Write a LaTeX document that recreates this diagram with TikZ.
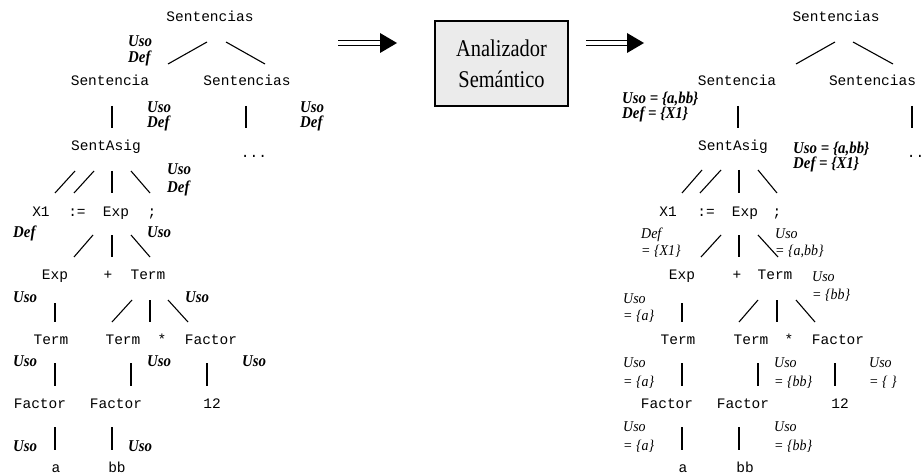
\documentclass[tikz,border=0pt]{standalone}
\usepackage{fontspec}
\usetikzlibrary{calc}

% Typefaces: typewriter for grammar symbols, serif for the box and attributes
\newfontfamily\codefont{Liberation Mono}
\newfontfamily\romfont[FakeStretch=0.85]{Liberation Serif}
\newfontfamily\bifont[FakeStretch=0.9]{Liberation Serif}
\newfontfamily\itfont[FakeStretch=0.93]{Liberation Serif}

% A tree branch: two named end points and the segment between them
\newcommand\branch[4]{%
  \coordinate (#1-#2-p) at (#3);
  \coordinate (#1-#2-c) at (#4);
  \draw[edge] (#1-#2-p) -- (#1-#2-c);}

% A two-line attribute annotation (first line sits on the given baseline)
\newcommand\attr[6]{%
  \node[#2] (#1) at (#3)
    {\vtop{\lineskiplimit=-30pt\baselineskip=#4pt\hbox{#5}\hbox{#6}}};}

\begin{document}
\begin{tikzpicture}[x=1pt,y=-1pt,
  edge/.style={line width=1.1pt},
  sym/.style={font=\codefont\fontsize{14.5}{17}\selectfont, inner sep=0pt, anchor=base},
  bold/.style={font=\bifont\bfseries\itshape\fontsize{16.5}{18}\selectfont, inner sep=0pt, anchor=base west},
  ital/.style={font=\itfont\itshape\fontsize{15}{18}\selectfont, inner sep=0pt, anchor=base west},
  stage/.style={draw, line width=1.1pt, fill=boxgray, minimum width=133pt, minimum height=85pt,
    inner sep=0pt, align=center, font=\romfont\fontsize{24}{31}\selectfont},
  rail/.style={line width=1.3pt, double, double distance=3.6pt}
]
\definecolor{boxgray}{HTML}{EBEBEB}
\useasboundingbox (0,0) rectangle (923,473);

% ---------------- Syntax tree before the analysis ----------------
\node[sym] (sL)     at (210,22)    {Sentencias};
\node[sym] (sentL)  at (110,86)    {Sentencia};
\node[sym] (sentsL) at (247,86)    {Sentencias};
\node[sym] (asigL)  at (106,150.5) {SentAsig};
\node[sym] (dotsL)  at (254,158)   {...};
\node[sym] (x1L)    at (41,216)    {X1};
\node[sym] (eqL)    at (77,216)    {:=};
\node[sym] (expL)   at (116,216)   {Exp};
\node[sym] (semiL)  at (152,216)   {;};
\node[sym] (exp2L)  at (55,279.5)  {Exp};
\node[sym] (plusL)  at (108,279.5) {+};
\node[sym] (termL)  at (148,279.5) {Term};
\node[sym] (term2L) at (51,344)    {Term};
\node[sym] (term3L) at (123,344)   {Term};
\node[sym] (starL)  at (162,344)   {*};
\node[sym] (factL)  at (211,344)   {Factor};
\node[sym] (f1L)    at (40,408)    {Factor};
\node[sym] (f2L)    at (116,408)   {Factor};
\node[sym] (n12L)   at (212,408)   {12};
\node[sym] (aL)     at (56,472)    {a};
\node[sym] (bbL)    at (117,472)   {bb};

\branch{sL}{sentL}{207,42}{168,64}
\branch{sL}{sentsL}{226,42}{265,64}
\branch{sentL}{asigL}{112,106}{112,128}
\branch{sentsL}{dotsL}{246,106}{246,128}
\branch{asigL}{x1L}{75,171}{55,193}
\branch{asigL}{eqL}{94,171}{74,193}
\branch{asigL}{expL}{112,171}{112,193}
\branch{asigL}{semiL}{131,171}{150,193}
\branch{expL}{exp2L}{93,235}{74,257}
\branch{expL}{plusL}{112,235}{112,257}
\branch{expL}{termL}{131,235}{150,257}
\branch{exp2L}{term2L}{55,303}{55,322}
\branch{termL}{term3L}{132,300}{112,322}
\branch{termL}{starL}{150,300}{150,322}
\branch{termL}{factL}{168,300}{188,322}
\branch{term2L}{f1L}{55,363}{55,386}
\branch{term3L}{f2L}{131,363}{131,386}
\branch{factL}{n12L}{207,363}{207,386}
\branch{f1L}{aL}{55,427}{55,450}
\branch{f2L}{bbL}{112,427}{112,450}

% attributes still to be computed
\attr{uL1}{bold}{128,46.7}{16}{Uso}{Def}
\attr{uL2}{bold}{147,112.5}{15.5}{Uso}{Def}
\attr{uL3}{bold}{300,112.5}{15.5}{Uso}{Def}
\attr{uL4}{bold}{167,174.3}{18}{Uso}{Def}
\node[bold] (dL5) at (13,237)    {Def};
\node[bold] (uL6) at (147,237)   {Uso};
\node[bold] (uL7) at (13,302.7)  {Uso};
\node[bold] (uL8) at (185,302.7) {Uso};
\node[bold] (uL9) at (13,366.7)  {Uso};
\node[bold] (uL10) at (147,366.7) {Uso};
\node[bold] (uL11) at (242,366.7) {Uso};
\node[bold] (uL12) at (13,451.7)  {Uso};
\node[bold] (uL13) at (128,451.7) {Uso};

% ---------------- Semantic analyser stage ----------------
\node[stage] (an) at (501.5,63.5) {Analizador\\Semántico};

\coordinate (inS) at (338,43);
\coordinate (inE) at (397,43);
\draw[rail, shorten >=16pt] (inS) -- (inE);
\fill (inE) -- ([xshift=-17pt,yshift=10pt]inE) -- ([xshift=-17pt,yshift=-10pt]inE) -- cycle;

\coordinate (outS) at (586,43);
\coordinate (outE) at (644,43);
\draw[rail, shorten >=16pt] (outS) -- (outE);
\fill (outE) -- ([xshift=-17pt,yshift=10pt]outE) -- ([xshift=-17pt,yshift=-10pt]outE) -- cycle;

% ---------------- Annotated syntax tree ----------------
\node[sym] (sR)     at (836,22)    {Sentencias};
\node[sym] (sentR)  at (737,86)    {Sentencia};
\node[sym] (sentsR) at (872.5,86)  {Sentencias};
\node[sym] (asigR)  at (733,150.5) {SentAsig};
\node[sym] (dotsR)  at (920,158)   {...};
\node[sym] (x1R)    at (668,216)   {X1};
\node[sym] (eqR)    at (706,216)   {:=};
\node[sym] (expR)   at (745,216)   {Exp};
\node[sym] (semiR)  at (777,216)   {;};
\node[sym] (exp2R)  at (682,279.5) {Exp};
\node[sym] (plusR)  at (737,279.5) {+};
\node[sym] (termR)  at (775,279.5) {Term};
\node[sym] (term2R) at (678,344)   {Term};
\node[sym] (term3R) at (751,344)   {Term};
\node[sym] (starR)  at (789,344)   {*};
\node[sym] (factR)  at (838,344)   {Factor};
\node[sym] (f1R)    at (667,408)   {Factor};
\node[sym] (f2R)    at (743,408)   {Factor};
\node[sym] (n12R)   at (840,408)   {12};
\node[sym] (aR)     at (683,472)   {a};
\node[sym] (bbR)    at (745,472)   {bb};

\branch{sR}{sentR}{835,42}{796,64}
\branch{sR}{sentsR}{853,42}{893,64}
\branch{sentR}{asigR}{738,106}{738,128}
\branch{sentsR}{dotsR}{912,106}{912,128}
\branch{asigR}{x1R}{702,170}{682,193}
\branch{asigR}{eqR}{721,170}{700,193}
\branch{asigR}{expR}{739,170}{739,193}
\branch{asigR}{semiR}{758,170}{777,193}
\branch{expR}{exp2R}{721,235}{701,257}
\branch{expR}{plusR}{739,235}{739,257}
\branch{expR}{termR}{758,235}{778,257}
\branch{exp2R}{term2R}{682,303}{682,322}
\branch{termR}{term3R}{758,300}{739,322}
\branch{termR}{starR}{777,300}{777,322}
\branch{termR}{factR}{796,300}{815,322}
\branch{term2R}{f1R}{682,363}{682,386}
\branch{term3R}{f2R}{758,363}{758,386}
\branch{factR}{n12R}{835,363}{835,386}
\branch{f1R}{aR}{682,427}{682,450}
\branch{f2R}{bbR}{739,427}{739,450}

% computed attribute values
\attr{vR1}{bold}{622,103.5}{15}{Uso = \{a,bb\}}{Def = \{X1\}}
\attr{vR2}{bold}{793,154}{15}{Uso = \{a,bb\}}{Def = \{X1\}}
\attr{vR3}{ital}{641,238}{17}{Def}{= \{X1\}}
\attr{vR4}{ital}{775,238}{17}{Uso}{= \{a,bb\}}
\attr{vR5}{ital}{812,281.7}{17.5}{Uso}{= \{bb\}}
\attr{vR6}{ital}{623,303}{17}{Uso}{= \{a\}}
\attr{vR7}{ital}{623,367}{19}{Uso}{= \{a\}}
\attr{vR8}{ital}{774,367}{19}{Uso}{= \{bb\}}
\attr{vR9}{ital}{869,367}{19}{Uso}{= \{ \}}
\attr{vR10}{ital}{623,431.7}{18.5}{Uso}{= \{a\}}
\attr{vR11}{ital}{774,431.7}{18.5}{Uso}{= \{bb\}}
\end{tikzpicture}
\end{document}
